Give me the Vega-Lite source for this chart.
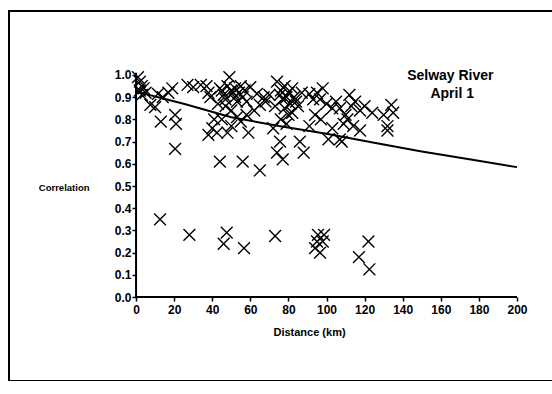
{
  "$schema": "https://vega.github.io/schema/vega-lite/v6.json",
  "autosize": "none",
  "width": 560,
  "height": 370,
  "padding": {"left": 9, "top": 11, "right": 0, "bottom": 0},
  "background": "white",
  "config": {
    "view": {"stroke": "black", "strokeWidth": 2},
    "font": "Liberation Sans",
    "axis": {
      "grid": false,
      "domain": false,
      "labelOverlap": false,
      "tickColor": "black",
      "tickWidth": 1.5,
      "tickSize": 4,
      "labelColor": "black",
      "labelFont": "Liberation Sans",
      "labelFontWeight": "bold",
      "labelFontSize": 12,
      "titleColor": "black",
      "titleFont": "Liberation Sans",
      "titleFontWeight": "bold"
    }
  },
  "datasets": {
    "points": [
      {"d": 12.6, "c": 0.35}, {"d": 28, "c": 0.28}, {"d": 47.6, "c": 0.29}, {"d": 46, "c": 0.24}, {"d": 56.7, "c": 0.22},
      {"d": 73, "c": 0.275}, {"d": 95.5, "c": 0.28}, {"d": 98.7, "c": 0.28}, {"d": 95, "c": 0.25}, {"d": 98, "c": 0.25},
      {"d": 94, "c": 0.22}, {"d": 96.6, "c": 0.2}, {"d": 122, "c": 0.25}, {"d": 117, "c": 0.18}, {"d": 122.5, "c": 0.125},
      {"d": 20.5, "c": 0.667}, {"d": 44, "c": 0.61}, {"d": 56, "c": 0.61}, {"d": 65, "c": 0.57},
      {"d": 1, "c": 0.99}, {"d": 2, "c": 0.97}, {"d": 3, "c": 0.95}, {"d": 2, "c": 0.93}, {"d": 4, "c": 0.94}, {"d": 5, "c": 0.92}, {"d": 3, "c": 0.91},
      {"d": 7.5, "c": 0.865}, {"d": 10, "c": 0.855}, {"d": 11.5, "c": 0.915}, {"d": 13, "c": 0.79}, {"d": 14, "c": 0.9}, {"d": 19, "c": 0.94},
      {"d": 20.5, "c": 0.82}, {"d": 21, "c": 0.78}, {"d": 17, "c": 0.92},
      {"d": 27, "c": 0.955}, {"d": 30, "c": 0.945}, {"d": 34, "c": 0.955},
      {"d": 37, "c": 0.95}, {"d": 38, "c": 0.92}, {"d": 39, "c": 0.9}, {"d": 40, "c": 0.76}, {"d": 42.5, "c": 0.74}, {"d": 38, "c": 0.73},
      {"d": 41, "c": 0.8}, {"d": 44, "c": 0.94}, {"d": 43, "c": 0.87},
      {"d": 45, "c": 0.93}, {"d": 46, "c": 0.91}, {"d": 47, "c": 0.89}, {"d": 48, "c": 0.95}, {"d": 49, "c": 0.99}, {"d": 50, "c": 0.93},
      {"d": 51, "c": 0.92}, {"d": 52, "c": 0.94}, {"d": 52, "c": 0.9}, {"d": 53, "c": 0.88}, {"d": 54, "c": 0.92}, {"d": 55, "c": 0.95},
      {"d": 56, "c": 0.9}, {"d": 57, "c": 0.93}, {"d": 58, "c": 0.88}, {"d": 47, "c": 0.86}, {"d": 50, "c": 0.84}, {"d": 53, "c": 0.81},
      {"d": 55, "c": 0.79}, {"d": 48, "c": 0.74}, {"d": 59, "c": 0.74}, {"d": 58, "c": 0.82}, {"d": 60, "c": 0.945}, {"d": 63.5, "c": 0.915},
      {"d": 65, "c": 0.865}, {"d": 62, "c": 0.84}, {"d": 67, "c": 0.9}, {"d": 68, "c": 0.88}, {"d": 70, "c": 0.91}, {"d": 50, "c": 0.77}, {"d": 45, "c": 0.8},
      {"d": 74, "c": 0.97}, {"d": 75.6, "c": 0.91}, {"d": 76, "c": 0.93}, {"d": 77, "c": 0.89}, {"d": 78, "c": 0.95}, {"d": 79, "c": 0.9},
      {"d": 80, "c": 0.92}, {"d": 81, "c": 0.87}, {"d": 82, "c": 0.94}, {"d": 83, "c": 0.9}, {"d": 84, "c": 0.88}, {"d": 78, "c": 0.85},
      {"d": 80, "c": 0.82}, {"d": 76, "c": 0.8}, {"d": 72, "c": 0.76}, {"d": 75.6, "c": 0.7}, {"d": 74, "c": 0.65}, {"d": 77, "c": 0.62},
      {"d": 82, "c": 0.83}, {"d": 85, "c": 0.86}, {"d": 86, "c": 0.7}, {"d": 88, "c": 0.65}, {"d": 79, "c": 0.78}, {"d": 73, "c": 0.86}, {"d": 87, "c": 0.92},
      {"d": 91, "c": 0.915}, {"d": 93, "c": 0.89}, {"d": 95, "c": 0.92}, {"d": 98, "c": 0.94}, {"d": 96.6, "c": 0.89}, {"d": 100, "c": 0.87},
      {"d": 91, "c": 0.77}, {"d": 94, "c": 0.82}, {"d": 97, "c": 0.8}, {"d": 101, "c": 0.71}, {"d": 103, "c": 0.85}, {"d": 105, "c": 0.88},
      {"d": 107, "c": 0.85}, {"d": 107, "c": 0.71}, {"d": 109, "c": 0.78}, {"d": 110, "c": 0.82}, {"d": 111, "c": 0.8}, {"d": 112, "c": 0.91},
      {"d": 113, "c": 0.86}, {"d": 115, "c": 0.88}, {"d": 117.6, "c": 0.84}, {"d": 117.6, "c": 0.75}, {"d": 114, "c": 0.77}, {"d": 108, "c": 0.7},
      {"d": 103, "c": 0.76},
      {"d": 124, "c": 0.83}, {"d": 130, "c": 0.82}, {"d": 134, "c": 0.865}, {"d": 135, "c": 0.83}, {"d": 132, "c": 0.75}, {"d": 132, "c": 0.77}, {"d": 120, "c": 0.86}
    ],
    "fit": [
      {"d": 0, "c": 0.925}, {"d": 25, "c": 0.87}, {"d": 50, "c": 0.81}, {"d": 75, "c": 0.77}, {"d": 100, "c": 0.735},
      {"d": 125, "c": 0.695}, {"d": 150, "c": 0.655}, {"d": 175, "c": 0.62}, {"d": 200, "c": 0.585}
    ],
    "one": [{}]
  },
  "layer": [
    {
      "data": {"name": "points"},
      "mark": {"type": "point", "shape": "M-1,-1L1,1M1,-1L-1,1", "filled": false, "stroke": "black", "strokeWidth": 1.4, "size": 140, "opacity": 1},
      "encoding": {
        "x": {
          "field": "d", "type": "quantitative",
          "scale": {"domain": [-66.7, 227.3], "nice": false, "zero": false},
          "axis": {
            "orient": "bottom", "offset": -84,
            "values": [0, 20, 40, 60, 80, 100, 120, 140, 160, 180, 200],
            "tickCount": 30,
            "labelPadding": 3, "labelOverlap": false,
            "title": "Distance (km)", "titleFontSize": 11,
            "titleX": 300, "titleY": 35, "titleBaseline": "middle", "titleAlign": "center"
          }
        },
        "y": {
          "field": "c", "type": "quantitative",
          "scale": {"domain": [-0.378, 1.288], "nice": false, "zero": false},
          "axis": {
            "orient": "left", "offset": -127,
            "values": [0, 0.1, 0.2, 0.3, 0.4, 0.5, 0.6, 0.7, 0.8, 0.9, 1.0],
            "tickCount": 30,
            "format": ".1f", "labelPadding": 1, "labelOverlap": false, "labelBound": false, "labelFlush": false,
            "title": "Correlation", "titleFontSize": 9.5, "titleAngle": 0,
            "titleAlign": "right", "titleBaseline": "middle", "titleX": -47, "titleY": 176
          }
        }
      }
    },
    {
      "data": {"name": "fit"},
      "mark": {"type": "line", "color": "black", "strokeWidth": 2},
      "encoding": {
        "x": {"field": "d", "type": "quantitative"},
        "y": {"field": "c", "type": "quantitative"}
      }
    },
    {
      "data": {"name": "one"},
      "mark": {"type": "rule", "color": "black", "strokeWidth": 2},
      "encoding": {
        "x": {"datum": 0},
        "y": {"datum": 0},
        "y2": {"datum": 1.01}
      }
    },
    {
      "data": {"name": "one"},
      "mark": {"type": "rule", "color": "black", "strokeWidth": 2},
      "encoding": {
        "x": {"datum": 0},
        "x2": {"datum": 200},
        "y": {"datum": 0}
      }
    },
    {
      "data": {"name": "one"},
      "mark": {"type": "text", "font": "Liberation Sans", "fontWeight": "bold", "fontSize": 14, "align": "center", "baseline": "middle", "fill": "black"},
      "encoding": {
        "x": {"datum": 165},
        "y": {"datum": 0.995},
        "text": {"value": "Selway River"}
      }
    },
    {
      "data": {"name": "one"},
      "mark": {"type": "text", "font": "Liberation Sans", "fontWeight": "bold", "fontSize": 14, "align": "center", "baseline": "middle", "fill": "black"},
      "encoding": {
        "x": {"datum": 166},
        "y": {"datum": 0.915},
        "text": {"value": "April 1"}
      }
    }
  ]
}
